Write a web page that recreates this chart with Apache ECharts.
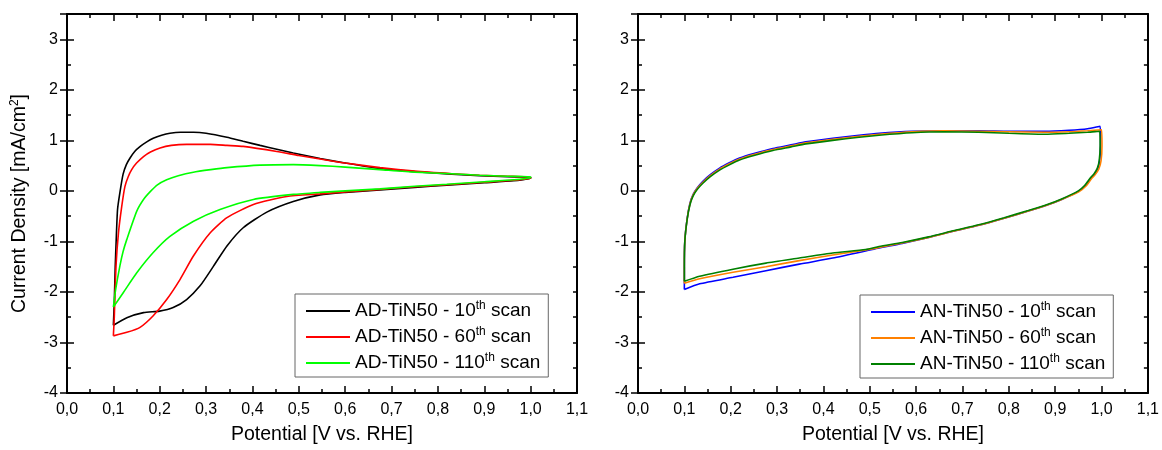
<!DOCTYPE html>
<html>
<head>
<meta charset="utf-8">
<script src="https://cdn.jsdelivr.net/npm/echarts@6/dist/echarts.min.js"></script>
<style>
  html, body { margin: 0; padding: 0; background: #fff; }
  #chart { width: 1162px; height: 450px; }
</style>
</head>
<body>
<div id="chart"></div>
<script>
// Cyclic voltammograms: [potential (V vs. RHE), current density (mA/cm²)]
// Each loop runs anodic from 0.1 V to 1.0 V, then back.

const adScan10 = [
  [0.100,-2.66],[0.102,-2.20],[0.104,-1.50],[0.106,-1.00],[0.109,-0.37],[0.114,-0.04],
  [0.121,0.33],[0.128,0.52],[0.136,0.65],[0.146,0.78],[0.158,0.88],[0.172,0.97],
  [0.186,1.04],[0.204,1.10],[0.222,1.14],[0.245,1.16],[0.273,1.16],[0.300,1.14],
  [0.345,1.06],[0.380,0.98],[0.4165,0.90],[0.450,0.83],[0.488,0.75],[0.546,0.64],
  [0.600,0.55],[0.675,0.44],[0.750,0.38],[0.830,0.33],[0.890,0.30],[0.950,0.28],[1.000,0.27],
  [1.000,0.25],[0.963,0.20],[0.900,0.16],[0.819,0.11],[0.750,0.07],[0.675,0.02],
  [0.600,-0.03],[0.546,-0.08],[0.488,-0.21],[0.431,-0.42],[0.380,-0.73],[0.345,-1.09],
  [0.316,-1.49],[0.287,-1.88],[0.258,-2.15],[0.229,-2.31],[0.200,-2.38],[0.165,-2.41],
  [0.129,-2.51],[0.100,-2.66]
];
const adScan60 = [
  [0.100,-2.87],[0.102,-2.50],[0.1057,-1.49],[0.111,-0.83],[0.118,-0.31],[0.125,0.09],
  [0.132,0.28],[0.1395,0.42],[0.150,0.55],[0.165,0.68],[0.180,0.77],[0.2007,0.85],
  [0.225,0.90],[0.258,0.92],[0.309,0.92],[0.345,0.90],[0.380,0.88],[0.4525,0.78],
  [0.500,0.70],[0.546,0.63],[0.600,0.55],[0.675,0.46],[0.750,0.39],[0.830,0.34],
  [0.890,0.31],[0.950,0.29],[1.000,0.27],
  [1.000,0.25],[0.963,0.21],[0.900,0.17],[0.819,0.12],[0.750,0.08],[0.675,0.03],
  [0.600,-0.02],[0.546,-0.06],[0.474,-0.11],[0.402,-0.27],[0.345,-0.53],[0.309,-0.83],
  [0.2726,-1.29],[0.244,-1.75],[0.215,-2.15],[0.186,-2.47],[0.1575,-2.70],[0.129,-2.80],
  [0.100,-2.87]
];
const adScan110 = [
  [0.100,-2.30],[0.105,-1.95],[0.114,-1.49],[0.121,-1.20],[0.129,-0.96],[0.1505,-0.40],
  [0.165,-0.17],[0.179,-0.02],[0.195,0.12],[0.215,0.22],[0.240,0.30],[0.2726,0.37],
  [0.310,0.42],[0.345,0.46],[0.4165,0.51],[0.488,0.52],[0.546,0.50],[0.600,0.47],
  [0.675,0.42],[0.750,0.37],[0.830,0.34],[0.890,0.31],[0.950,0.29],[1.000,0.28],
  [1.000,0.26],[0.963,0.22],[0.900,0.18],[0.819,0.13],[0.750,0.09],[0.675,0.04],
  [0.600,0.00],[0.546,-0.03],[0.488,-0.07],[0.402,-0.17],[0.330,-0.37],[0.273,-0.60],
  [0.222,-0.90],[0.186,-1.22],[0.1505,-1.62],[0.1216,-2.01],[0.100,-2.30]
];

const anScan10 = [
  [0.100,-1.95],[0.100,-1.50],[0.101,-1.00],[0.106,-0.55],[0.112,-0.25],[0.119,-0.07],
  [0.128,0.06],[0.140,0.19],[0.156,0.32],[0.176,0.45],[0.196,0.55],[0.219,0.65],
  [0.250,0.74],[0.291,0.84],[0.330,0.91],[0.362,0.97],[0.420,1.04],[0.477,1.10],
  [0.520,1.14],[0.591,1.18],[0.660,1.19],[0.735,1.19],[0.800,1.18],[0.878,1.18],
  [0.930,1.20],[0.970,1.23],[0.997,1.28],
  [0.998,1.00],[0.997,0.70],[0.9925,0.45],[0.985,0.33],[0.978,0.26],[0.965,0.10],
  [0.950,-0.01],[0.914,-0.17],[0.880,-0.29],[0.842,-0.40],[0.790,-0.54],[0.735,-0.68],
  [0.680,-0.80],[0.627,-0.92],[0.570,-1.04],[0.520,-1.13],[0.491,-1.19],[0.420,-1.33],
  [0.348,-1.45],[0.276,-1.58],[0.205,-1.71],[0.133,-1.84],[0.100,-1.95]
];
const anScan60 = [
  [0.100,-1.83],[0.100,-1.50],[0.101,-1.00],[0.106,-0.56],[0.112,-0.26],[0.119,-0.08],
  [0.128,0.05],[0.140,0.17],[0.156,0.30],[0.176,0.43],[0.196,0.53],[0.219,0.63],
  [0.250,0.72],[0.291,0.82],[0.330,0.89],[0.362,0.95],[0.420,1.02],[0.477,1.08],
  [0.520,1.12],[0.591,1.17],[0.660,1.19],[0.735,1.18],[0.800,1.17],[0.878,1.16],
  [0.930,1.17],[0.970,1.19],[1.000,1.21],
  [1.001,0.90],[0.999,0.60],[0.994,0.43],[0.986,0.32],[0.979,0.25],[0.966,0.09],
  [0.951,-0.02],[0.914,-0.17],[0.880,-0.29],[0.842,-0.40],[0.790,-0.54],[0.735,-0.68],
  [0.680,-0.80],[0.627,-0.92],[0.570,-1.03],[0.520,-1.12],[0.491,-1.17],[0.420,-1.27],
  [0.348,-1.38],[0.276,-1.50],[0.205,-1.61],[0.133,-1.74],[0.100,-1.83]
];
const anScan110 = [
  [0.100,-1.79],[0.100,-1.50],[0.101,-1.00],[0.106,-0.57],[0.112,-0.28],[0.119,-0.10],
  [0.128,0.03],[0.140,0.15],[0.156,0.28],[0.176,0.41],[0.196,0.51],[0.219,0.61],
  [0.250,0.70],[0.291,0.80],[0.330,0.87],[0.362,0.93],[0.420,1.00],[0.477,1.06],
  [0.520,1.10],[0.591,1.15],[0.660,1.17],[0.735,1.16],[0.800,1.14],[0.878,1.12],
  [0.930,1.14],[0.970,1.16],[0.996,1.18],
  [0.997,0.90],[0.995,0.60],[0.991,0.45],[0.984,0.34],[0.977,0.27],[0.964,0.11],
  [0.950,0.00],[0.914,-0.16],[0.880,-0.28],[0.842,-0.39],[0.790,-0.53],[0.735,-0.67],
  [0.680,-0.79],[0.627,-0.91],[0.570,-1.02],[0.520,-1.10],[0.491,-1.16],[0.420,-1.23],
  [0.348,-1.33],[0.276,-1.43],[0.205,-1.55],[0.133,-1.69],[0.100,-1.79]
];

const leftNames = ['AD-TiN50 - 10th scan', 'AD-TiN50 - 60th scan', 'AD-TiN50 - 110th scan'];
const rightNames = ['AN-TiN50 - 10th scan', 'AN-TiN50 - 60th scan', 'AN-TiN50 - 110th scan'];
const leftColors = ['#000000', '#ff0000', '#00ff00'];
const rightColors = ['#0000ff', '#ff8000', '#008000'];

const xTitle = 'Potential [V vs. RHE]';
const potMin = 0, potMax = 1.1, potStep = 0.1;
const curMin = -4, curMax = 3.5;

const FONT = '"Liberation Sans", Arial, sans-serif';

function xAxes(gridIndex) {
  const base = {
    type: 'value', gridIndex, min: potMin, max: potMax, interval: potStep,
    splitLine: { show: false },
    axisLine: { show: true, onZero: false, lineStyle: { color: '#000', width: 2 } },
    axisTick: { show: true, inside: true, length: 7, lineStyle: { color: '#000', width: 1.5 } },
    minorTick: { show: true, splitNumber: 2, length: 4, lineStyle: { color: '#000', width: 1.5 } }
  };
  return [
    Object.assign({}, base, {
      position: 'bottom',
      name: xTitle, nameLocation: 'middle', nameGap: 32,
      nameTextStyle: { fontFamily: FONT, fontSize: 19.5, color: '#000' },
      axisLabel: {
        show: true, margin: 9, fontFamily: FONT, fontSize: 16, color: '#000',
        formatter: v => v.toFixed(1).replace('.', ',')
      }
    }),
    Object.assign({}, base, { position: 'top', axisLabel: { show: false } })
  ];
}

function yAxes(gridIndex, withTitle) {
  const minor = {
    type: 'value', gridIndex, min: curMin, max: curMax, interval: 0.5,
    splitLine: { show: false },
    axisLine: { show: true, onZero: false, lineStyle: { color: '#000', width: 2 } },
    axisTick: { show: true, inside: true, length: 4, lineStyle: { color: '#000', width: 1.5 } }
  };
  const major = {
    type: 'value', gridIndex, min: curMin, max: curMax, interval: 1,
    splitLine: { show: false },
    axisLine: { show: false },
    axisLabel: { show: false },
    axisTick: { show: true, inside: true, length: 7, lineStyle: { color: '#000', width: 1.5 } }
  };
  const left = Object.assign({}, minor, {
    position: 'left',
    axisLabel: {
      show: true, margin: 9, fontFamily: FONT, fontSize: 16, color: '#000',
      formatter: v => (Number.isInteger(v) && v < curMax ? String(v) : '')
    }
  });
  if (withTitle) {
    Object.assign(left, {
      name: '{a|Current Density [mA/cm}{s|2}{a|]}',
      nameLocation: 'middle', nameGap: 36, nameRotate: 90,
      nameTextStyle: {
        color: '#000',
        rich: {
          a: { fontFamily: FONT, fontSize: 19.5, color: '#000', lineHeight: 22 },
          s: { fontFamily: FONT, fontSize: 12, color: '#000', lineHeight: 22, verticalAlign: 'top', padding: [0, 0, 8, 0] }
        }
      }
    });
  }
  return [
    left,
    Object.assign({}, major, { position: 'left' }),
    Object.assign({}, minor, { position: 'right', axisLabel: { show: false } }),
    Object.assign({}, major, { position: 'right' })
  ];
}

function legendFor(names, left, top) {
  return {
    show: true, data: names, orient: 'vertical', left, top,
    icon: 'rect', itemWidth: 44, itemHeight: 2, itemGap: 5,
    padding: [6, 8, 4, 11],
    borderColor: '#666', borderWidth: 1, backgroundColor: '#fff',
    selectedMode: false,
    textStyle: {
      color: '#000',
      rich: {
        n: { fontFamily: FONT, fontSize: 19, color: '#000', lineHeight: 22 },
        s: { fontFamily: FONT, fontSize: 12, color: '#000', lineHeight: 22, verticalAlign: 'top', padding: [0, 0, 9, 0] }
      }
    },
    formatter: name => {
      const m = name.match(/^(.*\d)th( scan)$/);
      return '{n|' + m[1] + '}{s|th}{n|' + m[2] + '}';
    }
  };
}

function loopSeries(name, data, color, xi, yi) {
  return {
    type: 'line', name, data, xAxisIndex: xi, yAxisIndex: yi,
    symbol: 'none', showSymbol: false, smooth: 0.2,
    lineStyle: { color, width: 1.6 }, itemStyle: { color },
    clip: true, z: 3
  };
}

const chart = echarts.init(document.getElementById('chart'), null, { renderer: 'canvas' });
chart.setOption({
  animation: false,
  backgroundColor: '#fff',
  grid: [
    { left: 67, top: 14, width: 510, height: 381, containLabel: false },
    { left: 638, top: 14, width: 512, height: 381, containLabel: false }
  ],
  xAxis: [...xAxes(0), ...xAxes(1)],
  yAxis: [...yAxes(0, true), ...yAxes(1, false)],
  legend: [legendFor(leftNames, 295, 294), legendFor(rightNames, 860, 295)],
  series: [
    loopSeries(leftNames[0], adScan10, leftColors[0], 0, 0),
    loopSeries(leftNames[1], adScan60, leftColors[1], 0, 0),
    loopSeries(leftNames[2], adScan110, leftColors[2], 0, 0),
    loopSeries(rightNames[0], anScan10, rightColors[0], 2, 4),
    loopSeries(rightNames[1], anScan60, rightColors[1], 2, 4),
    loopSeries(rightNames[2], anScan110, rightColors[2], 2, 4)
  ]
});
</script>
</body>
</html>
